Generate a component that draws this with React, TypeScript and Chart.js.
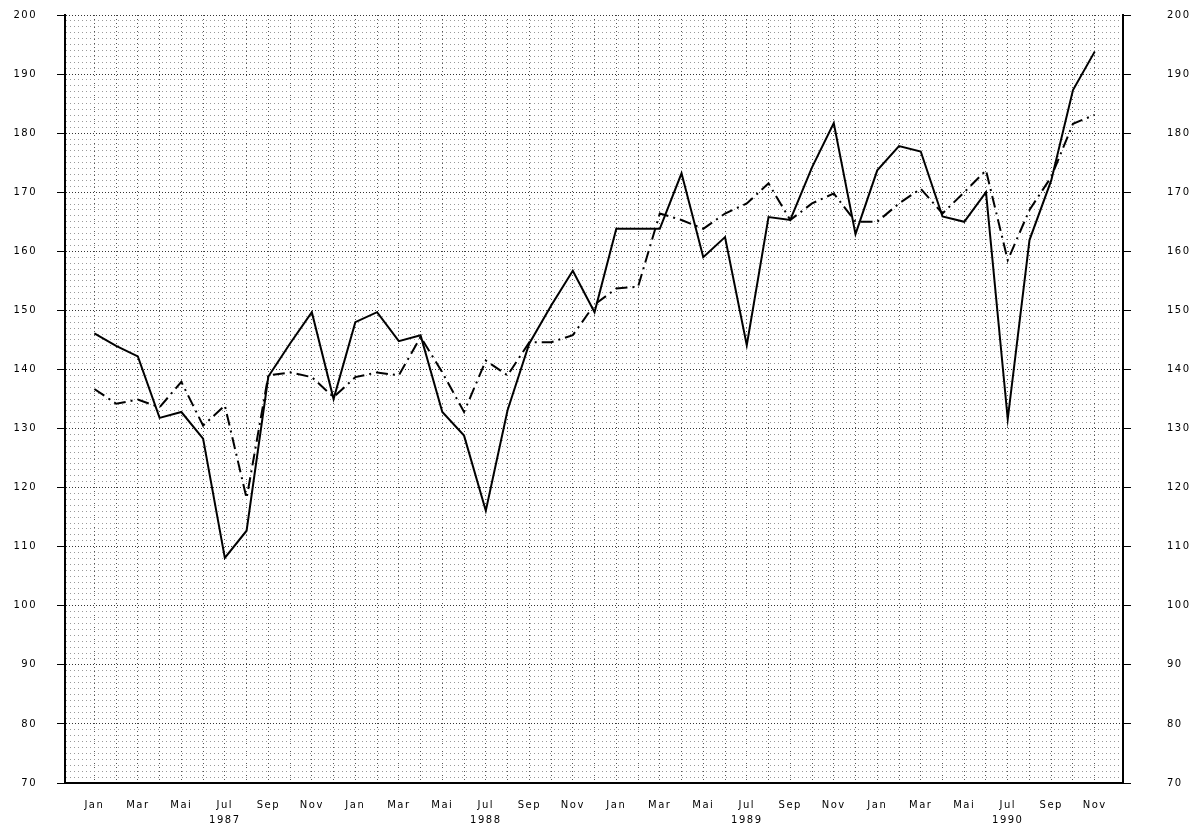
import React, { useEffect, useRef } from "react";
import { Chart, registerables } from "chart.js";

Chart.register(...registerables);

const monthNames = ["Jan", "Feb", "Mar", "Apr", "Mai", "Jun", "Jul", "Aug", "Sep", "Okt", "Nov", "Dez"];
const years = ["1987", "1988", "1989", "1990"];
const monthCount = 47;

const seriesSolid = [
  146.1, 144.0, 142.2, 131.8, 132.8, 128.3, 108.1, 112.7, 138.8, 144.4, 149.7, 135.0,
  148.0, 149.7, 144.8, 145.8, 132.8, 128.8, 116.1, 133.1, 144.4, 150.8, 156.7, 149.7,
  163.8, 163.8, 163.8, 173.2, 159.0, 162.4, 144.1, 165.8, 165.3, 174.2, 181.7, 162.9,
  173.7, 177.8, 176.9, 165.9, 165.0, 170.0, 131.6, 161.9, 172.0, 187.3, 193.8,
];

const seriesDashDot = [
  136.7, 134.2, 134.9, 133.6, 137.9, 130.5, 133.9, 118.2, 139.0, 139.5, 138.7, 135.3,
  138.7, 139.5, 139.0, 145.5, 139.5, 132.8, 141.5, 139.0, 144.6, 144.6, 145.8, 151.0,
  153.7, 154.0, 166.4, 165.3, 163.8, 166.4, 168.1, 171.5, 165.3, 168.1, 169.8, 165.0,
  165.0, 168.1, 170.6, 166.4, 170.0, 173.7, 158.5, 167.0, 172.6, 181.6, 183.1,
];

const yMin = 70;
const yMax = 200;
const yLabelStep = 10;

function xLabel(i: number): string | string[] {
  const m = i % 12;
  if (m % 2 !== 0) return "";
  const name = monthNames[m];
  if (m === 6) return [name, years[Math.floor(i / 12)]];
  return name;
}

const spacingPlugin = {
  id: "letterSpacing",
  beforeDraw(chart: any) {
    chart.ctx.letterSpacing = "1.5px";
  },
};

export default function App() {
  const canvasRef = useRef<HTMLCanvasElement | null>(null);

  useEffect(() => {
    if (!canvasRef.current) return;
    Chart.defaults.font.family = "'DejaVu Sans', sans-serif";
    Chart.defaults.font.size = 10;
    Chart.defaults.color = "#000";

    const points = (arr: number[]) => arr.map((v, i) => ({ x: i, y: v }));
    const isMajor = (ctx: any) => ctx.tick && ctx.tick.value % 10 === 0;
    const fixVertical = (width: number) => (scale: any) => {
      scale.width = width;
      scale.paddingTop = 6;
      scale.paddingBottom = 6;
    };

    const chart = new Chart(canvasRef.current, {
      type: "line",
      data: {
        datasets: [
          {
            label: "A",
            data: points(seriesSolid),
            borderColor: "#000",
            borderWidth: 2,
            pointRadius: 0,
            tension: 0,
            fill: false,
          },
          {
            label: "B",
            data: points(seriesDashDot),
            borderColor: "#000",
            borderWidth: 2,
            borderDash: [12, 5, 2, 5],
            pointRadius: 0,
            tension: 0,
            fill: false,
          },
        ],
      },
      options: {
        animation: false,
        responsive: true,
        maintainAspectRatio: false,
        layout: { padding: { top: 15, left: 0, right: 0, bottom: 0 } },
        plugins: { legend: { display: false }, tooltip: { enabled: false } },
        scales: {
          x: {
            type: "linear",
            min: -1.35,
            max: 47.3,
            afterBuildTicks: (scale: any) => {
              scale.ticks = Array.from({ length: monthCount }, (_, i) => ({ value: i }));
            },
            afterFit: (scale: any) => {
              scale.height = 52;
            },
            ticks: {
              autoSkip: false,
              maxRotation: 0,
              padding: 15,
              callback: (v: any) => xLabel(Number(v)),
              font: { size: 10, lineHeight: 1.5 },
            },
            grid: {
              drawTicks: false,
              color: "#555",
              lineWidth: 1,
            },
            border: { display: true, color: "#000", width: 2, dash: [1, 3] },
          },
          y: {
            type: "linear",
            position: "left",
            min: yMin,
            max: yMax,
            afterBuildTicks: (scale: any) => {
              const t = [];
              for (let v = yMin; v <= yMax; v++) t.push({ value: v });
              scale.ticks = t;
            },
            afterFit: fixVertical(65),
            ticks: {
              autoSkip: false,
              padding: 20,
              callback: (v: any) => (Number(v) % yLabelStep === 0 ? String(v) : ""),
            },
            grid: {
              tickLength: 8,
              color: (ctx: any) => (isMajor(ctx) ? "#333" : "#9a9a9a"),
              tickColor: (ctx: any) => (isMajor(ctx) ? "#000" : "rgba(0,0,0,0)"),
              lineWidth: 1,
            },
            border: {
              display: true,
              color: "#000",
              width: 2,
              dash: (ctx: any) => (isMajor(ctx) ? [1, 2] : [1, 3]),
            } as any,
          },
          y2: {
            type: "linear",
            position: "right",
            min: yMin,
            max: yMax,
            afterBuildTicks: (scale: any) => {
              const t = [];
              for (let v = yMin; v <= yMax; v += yLabelStep) t.push({ value: v });
              scale.ticks = t;
            },
            afterFit: fixVertical(66),
            ticks: { autoSkip: false, padding: 36 },
            grid: { drawOnChartArea: false, tickLength: 8, tickColor: "#000" },
            border: { display: true, color: "#000", width: 2 },
          },
        },
      },
      plugins: [spacingPlugin],
    });

    return () => chart.destroy();
  }, []);

  return (
    <div style={{ position: "fixed", left: 0, top: 0, width: 1189, height: 835, background: "#fff" }}>
      <canvas ref={canvasRef} />
    </div>
  );
}
